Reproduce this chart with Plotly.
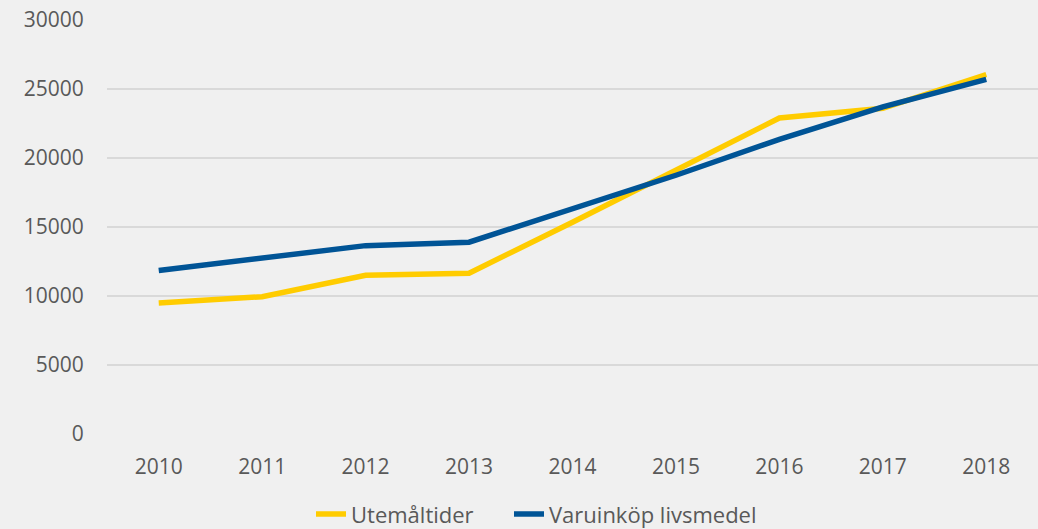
import plotly.graph_objects as go

years = ["2010", "2011", "2012", "2013", "2014", "2015", "2016", "2017", "2018"]
utemaltider = [9500, 9950, 11500, 11650, 15350, 19100, 22900, 23600, 26050]
varuinkop = [11850, 12700, 13650, 13900, 16350, 18750, 21350, 23700, 25700]
y_ticks = [0, 5000, 10000, 15000, 20000, 25000, 30000]

series = [
    ("Utemåltider", utemaltider, "#FFCC00", "legend"),
    ("Varuinköp livsmedel", varuinkop, "#005496", "legend2"),
]

fig = go.Figure()
for name, vals, col, leg in series:
    fig.add_trace(go.Scatter(x=years, y=vals, name=name, mode="lines", legend=leg,
                             line=dict(color=col, width=5.5)))

font = dict(family="Open Sans, Liberation Sans, sans-serif", size=21, color="#595959")
legfont = dict(family="Open Sans, Liberation Sans, sans-serif", size=22, color="#595959")
leg_common = dict(orientation="h", xref="container", xanchor="left",
                  yref="container", y=0.028, yanchor="middle",
                  font=legfont, bgcolor="rgba(0,0,0,0)", itemwidth=30)
fig.update_layout(
    width=1038, height=529,
    paper_bgcolor="#F0F0F0", plot_bgcolor="#F0F0F0",
    margin=dict(l=107, r=0, t=20, b=95),
    font=font,
    showlegend=True,
    legend=dict(x=311 / 1038, **leg_common),
    legend2=dict(x=509 / 1038, **leg_common),
)
fig.update_xaxes(type="category", range=[-0.5, len(years) - 0.5],
                 showgrid=False, zeroline=False, showline=False,
                 ticks="outside", ticklen=14, tickcolor="rgba(0,0,0,0)",
                 tickfont=font)
fig.update_yaxes(range=[0, 30000], tickvals=y_ticks, tickformat="d", showgrid=True,
                 gridcolor="#D9D9D9", gridwidth=1.5, zeroline=False, showline=False,
                 ticks="outside", ticklen=18, tickcolor="rgba(0,0,0,0)",
                 tickfont=font)

fig.write_html("out.html", config={"displayModeBar": False},
               post_script="document.body.style.margin='0';document.body.style.background='#F0F0F0';document.body.style.overflow='hidden';")
